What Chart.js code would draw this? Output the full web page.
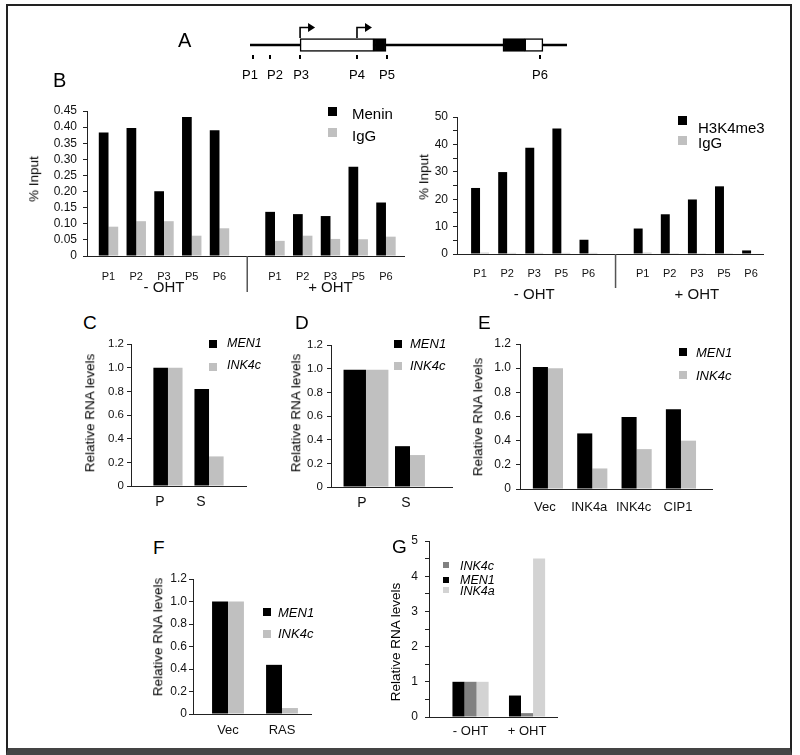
<!DOCTYPE html>
<html><head><meta charset="utf-8">
<script src="https://cdn.jsdelivr.net/npm/chart.js@4.4.1/dist/chart.umd.min.js"></script>
<style>
html,body{margin:0;padding:0;background:#fff;}
#fig{position:relative;width:800px;height:755px;overflow:hidden;background:#fff;font-family:'Liberation Sans',Arial,Helvetica,sans-serif;color:#000;}
#frame{position:absolute;left:6px;top:4px;width:786px;height:751px;box-sizing:border-box;border:2px solid #222;border-bottom:7px solid #444;}
canvas{position:absolute;}
.t{position:absolute;line-height:1;white-space:nowrap;transform:translateY(-50%);}
.rot{position:absolute;line-height:1;white-space:nowrap;transform:translate(-50%,-50%) rotate(-90deg);}
.sq{position:absolute;}
</style></head>
<body><div id="fig"><div id="frame"></div></div>
<script>
// ---------------- DATA ----------------
// Panel A: gene schematic (locus units 0-100)
const locusRange = [0, 100];
const exonBlocks = [[15.8, 39.1], [39.1, 42.9], [79.8, 86.7], [86.7, 92.4]];
const exonCoding = [false, true, true, false];
const tssSites = [15.8, 33.75];
const probeNames = ['P1', 'P2', 'P3', 'P4', 'P5', 'P6'];
const probeSites = [0.95, 6.3, 15.8, 33.75, 43.2, 91.5];

// Panel B
const bProbes = ['P1', 'P2', 'P3', 'P5', 'P6', 'P1', 'P2', 'P3', 'P5', 'P6'];
const bPositions = [0, 1, 2, 3, 4, 6, 7, 8, 9, 10];
const bGroups = ['- OHT', '+ OHT'];
const bGroupCenters = [2, 8];
const bSeparator = [5];
const meninSeries = ['Menin', 'IgG'];
const meninChIP = [0.383, 0.397, 0.201, 0.431, 0.390, 0.137, 0.130, 0.124, 0.277, 0.166];
const meninIgG = [0.091, 0.108, 0.108, 0.063, 0.086, 0.047, 0.063, 0.053, 0.052, 0.060];
const h3Series = ['H3K4me3', 'IgG'];
const h3k4me3ChIP = [24.1, 29.9, 38.8, 45.8, 5.2, 9.3, 14.5, 19.9, 24.7, 1.3];
const h3k4me3IgG = [0.5, 0.4, 0.4, 0.4, 0.4, 0.5, 0.3, 0.3, 0.3, 0.2];

// Panels C-G
const rnaSeries = ['MEN1', 'INK4c'];
const cCategories = ['P', 'S'];
const cMEN1 = [1.0, 0.82];
const cINK4c = [1.0, 0.25];
const dCategories = ['P', 'S'];
const dMEN1 = [0.99, 0.345];
const dINK4c = [0.99, 0.27];
const eCategories = ['Vec', 'INK4a', 'INK4c', 'CIP1'];
const eMEN1 = [1.01, 0.46, 0.595, 0.66];
const eINK4c = [1.0, 0.17, 0.33, 0.40];
const fCategories = ['Vec', 'RAS'];
const fMEN1 = [1.0, 0.437];
const fINK4c = [1.0, 0.053];
const gCategories = ['- OHT', '+ OHT'];
const gSeries = ['INK4c', 'MEN1', 'INK4a'];
const gMEN1 = [1.0, 0.61];
const gINK4c = [1.0, 0.11];
const gINK4a = [1.0, 4.5];

// ---------------- STYLE / HELPERS ----------------
const FONT = "'Liberation Sans', Arial, Helvetica, sans-serif";
Chart.defaults.font.family = FONT;
Chart.defaults.color = '#111';
const BLACK = '#000000', GRAY = '#c0c0c0', DGRAY = '#808080', LGRAY = '#d3d3d3';
const fig = document.getElementById('fig');

function addCanvas(x, y, w, h) {
  const c = document.createElement('canvas');
  c.width = w; c.height = h;
  c.style.left = x + 'px'; c.style.top = y + 'px';
  c.style.width = w + 'px'; c.style.height = h + 'px';
  fig.appendChild(c);
  return c;
}
function text(str, x, cy, size, italic) {
  const d = document.createElement('div');
  d.className = 't';
  d.textContent = str;
  d.style.left = x + 'px'; d.style.top = cy + 'px';
  d.style.fontSize = size + 'px';
  if (italic) d.style.fontStyle = 'italic';
  fig.appendChild(d);
}
function rotText(str, cx, cy, size) {
  const d = document.createElement('div');
  d.className = 'rot';
  d.textContent = str;
  d.style.left = cx + 'px'; d.style.top = cy + 'px';
  d.style.fontSize = size + 'px';
  fig.appendChild(d);
}
function legend(names, colors, o) {
  names.forEach((n, i) => {
    const sq = document.createElement('div');
    sq.className = 'sq';
    sq.style.left = o.x + 'px';
    sq.style.top = (o.rows[i] - o.sq / 2) + 'px';
    sq.style.width = o.sq + 'px'; sq.style.height = o.sq + 'px';
    sq.style.background = colors[i];
    fig.appendChild(sq);
    text(n, o.tx, o.trows[i], o.size, o.italic);
  });
}
function series(positions, values) {
  return positions.map((p, i) => ({x: p, y: values[i]}));
}

const groupAxisPlugin = {
  id: 'groupAxis',
  afterDraw(chart, args, opts) {
    if (!opts || !opts.labels) return;
    const ctx = chart.ctx, xs = chart.scales.x, y0 = chart.chartArea.bottom;
    ctx.save();
    ctx.strokeStyle = '#555'; ctx.lineWidth = 1.5;
    opts.separators.forEach(v => {
      const x = xs.getPixelForValue(v);
      ctx.beginPath(); ctx.moveTo(x, y0); ctx.lineTo(x, y0 + opts.sepLen); ctx.stroke();
    });
    ctx.fillStyle = '#111';
    ctx.font = opts.size + 'px ' + FONT;
    ctx.textAlign = 'center'; ctx.textBaseline = 'middle';
    opts.labels.forEach((t, i) => ctx.fillText(t, xs.getPixelForValue(opts.centers[i]), y0 + opts.dy));
    ctx.restore();
  }
};

function barPanel(cfg) {
  const a = cfg.area;
  const W = a.r - a.l + 70, H = a.b - a.t + 65;
  const cv = addCanvas(a.l - 60, a.t - 15, W, H);
  return new Chart(cv, {
    type: 'bar',
    data: {datasets: cfg.datasets},
    options: {
      responsive: false, animation: false, devicePixelRatio: 1,
      layout: {padding: {left: 0, top: 15, right: 10, bottom: 0}},
      plugins: {legend: {display: false}, tooltip: {enabled: false}, groupAxis: cfg.group || false},
      scales: {
        x: {
          type: 'linear', min: cfg.xMin, max: cfg.xMax, offset: false,
          grid: {display: false, drawTicks: false},
          border: {display: true, color: '#222', width: 1},
          afterBuildTicks: s => { s.ticks = cfg.positions.map(v => ({value: v})); },
          afterFit: s => { s.height = 50; },
          ticks: {
            autoSkip: false, maxRotation: 0, minRotation: 0,
            padding: cfg.xPad, labelOffset: cfg.labelOffset || 0,
            color: '#111', font: {size: cfg.xFont},
            callback: v => { const i = cfg.positions.indexOf(v); return i < 0 ? '' : cfg.labels[i]; }
          }
        },
        y: {
          min: 0, max: cfg.yMax,
          grid: {drawOnChartArea: false, drawTicks: true, tickLength: 4, color: '#222'},
          border: {display: true, color: '#222', width: 1},
          afterFit: s => { s.width = 60; },
          ticks: {autoSkip: false, stepSize: cfg.yStep, padding: cfg.yPad, color: '#111', font: {size: cfg.yFont}, callback: cfg.yFmt}
        }
      }
    },
    plugins: [groupAxisPlugin]
  });
}
const fmt2 = v => v === 0 ? '0' : v.toFixed(2);
const fmt1 = v => v === 0 ? '0' : v.toFixed(1);

// ---------------- PANEL A ----------------
const probeLabelNudge = [-3, 5, 1, 0, 0, 0];
const genePlugin = {
  id: 'geneMarks',
  afterDraw(chart) {
    const ctx = chart.ctx, xs = chart.scales.x;
    const yc = chart.getDatasetMeta(0).data[0].y;
    ctx.save();
    ctx.strokeStyle = '#000'; ctx.fillStyle = '#000';
    ctx.lineWidth = 2;
    probeSites.forEach(p => {
      const x = Math.round(xs.getPixelForValue(p));
      ctx.beginPath(); ctx.moveTo(x, yc + 10); ctx.lineTo(x, yc + 14); ctx.stroke();
    });
    ctx.font = '13px ' + FONT; ctx.textAlign = 'center'; ctx.textBaseline = 'middle';
    probeNames.forEach((n, i) => ctx.fillText(n, xs.getPixelForValue(probeSites[i]) + probeLabelNudge[i], yc + 30));
    ctx.lineWidth = 1.6;
    tssSites.forEach(p => {
      const x = xs.getPixelForValue(p);
      ctx.beginPath(); ctx.moveTo(x, yc - 7); ctx.lineTo(x, yc - 17.5); ctx.lineTo(x + 9, yc - 17.5); ctx.stroke();
      ctx.beginPath(); ctx.moveTo(x + 8, yc - 22); ctx.lineTo(x + 15, yc - 17.5); ctx.lineTo(x + 8, yc - 13); ctx.closePath(); ctx.fill();
    });
    ctx.restore();
  }
};
new Chart(addCanvas(170, 5, 420, 80), {
  type: 'bar',
  data: {
    labels: ['locus'],
    datasets: exonBlocks.map((r, i) => ({
      data: [r], backgroundColor: exonCoding[i] ? BLACK : '#ffffff', borderColor: '#000',
      borderWidth: 1.5, borderSkipped: false, barThickness: 13, grouped: false, order: 0
    })).concat([{data: [locusRange], backgroundColor: BLACK, borderWidth: 0, barThickness: 2, grouped: false, order: 1}])
  },
  options: {
    indexAxis: 'y', responsive: false, animation: false, devicePixelRatio: 1,
    layout: {padding: {left: 80, right: 23, top: 25, bottom: 25}},
    plugins: {legend: {display: false}, tooltip: {enabled: false}},
    scales: {x: {type: 'linear', display: false, min: locusRange[0], max: locusRange[1]}, y: {display: false}}
  },
  plugins: [genePlugin]
});
text('A', 178, 40, 20);

// ---------------- PANEL B ----------------
text('B', 53, 80, 20);
barPanel({
  area: {l: 87, t: 111, r: 404, b: 256}, positions: bPositions, labels: bProbes,
  xMin: -0.775, xMax: 10.65, yMax: 0.45, yStep: 0.05, yFmt: fmt2, yFont: 12, yPad: 6, xFont: 11, xPad: 14,
  group: {labels: bGroups, centers: bGroupCenters, separators: bSeparator, sepLen: 36, dy: 32, size: 15},
  datasets: [
    {label: meninSeries[0], data: series(bPositions, meninChIP), backgroundColor: BLACK, categoryPercentage: 0.70, barPercentage: 1},
    {label: meninSeries[1], data: series(bPositions, meninIgG), backgroundColor: GRAY, categoryPercentage: 0.70, barPercentage: 1}
  ]
});
rotText('% Input', 34, 179, 13.5);
legend(meninSeries, [BLACK, GRAY], {x: 328, sq: 9, rows: [111, 132], tx: 352, trows: [113, 135], size: 15});

barPanel({
  area: {l: 457, t: 117, r: 763, b: 254}, positions: bPositions, labels: bProbes,
  xMin: -0.85, xMax: 10.44, yMax: 50, yStep: 5, yFmt: v => v % 10 === 0 ? String(v) : '', yFont: 12, yPad: 5, xFont: 11, xPad: 13,
  group: {labels: bGroups, centers: bGroupCenters, separators: bSeparator, sepLen: 34, dy: 41, size: 15},
  datasets: [
    {label: h3Series[0], data: series(bPositions, h3k4me3ChIP), backgroundColor: BLACK, categoryPercentage: 0.66, barPercentage: 1},
    {label: h3Series[1], data: series(bPositions, h3k4me3IgG), backgroundColor: GRAY, categoryPercentage: 0.66, barPercentage: 1}
  ]
});
rotText('% Input', 424, 177, 13.5);
legend(h3Series, [BLACK, GRAY], {x: 678, sq: 9, rows: [120, 140], tx: 698, trows: [127, 142], size: 15});

// ---------------- PANEL C ----------------
const cPos = cCategories.map((c, i) => i);
text('C', 83, 321.5, 19);
barPanel({
  area: {l: 131, t: 344, r: 246, b: 486}, positions: cPos, labels: cCategories,
  xMin: -0.9, xMax: 1.9, yMax: 1.2, yStep: 0.2, yFmt: fmt1, yFont: 11.5, yPad: 3, xFont: 14, xPad: 8, labelOffset: -8,
  datasets: [
    {label: rnaSeries[0], data: series(cPos, cMEN1), backgroundColor: BLACK, categoryPercentage: 0.71, barPercentage: 1},
    {label: rnaSeries[1], data: series(cPos, cINK4c), backgroundColor: GRAY, categoryPercentage: 0.71, barPercentage: 1}
  ]
});
rotText('Relative RNA levels', 90, 413, 13.5);
legend(rnaSeries, [BLACK, GRAY], {x: 209, sq: 8, rows: [343.5, 366.5], tx: 227, trows: [343, 365], size: 12.5, italic: true});

// ---------------- PANEL D ----------------
const dPos = dCategories.map((c, i) => i);
text('D', 295, 321.5, 19);
barPanel({
  area: {l: 331, t: 345, r: 452, b: 487}, positions: dPos, labels: dCategories,
  xMin: -0.795, xMax: 1.955, yMax: 1.2, yStep: 0.2, yFmt: fmt1, yFont: 11.5, yPad: 4, xFont: 14, xPad: 8, labelOffset: -4,
  datasets: [
    {label: rnaSeries[0], data: series(dPos, [dMEN1[0], null]), backgroundColor: BLACK, categoryPercentage: 1.02, barPercentage: 1, skipNull: true},
    {label: rnaSeries[1], data: series(dPos, [dINK4c[0], null]), backgroundColor: GRAY, categoryPercentage: 1.02, barPercentage: 1, skipNull: true},
    {label: rnaSeries[0], data: series(dPos, [null, dMEN1[1]]), backgroundColor: BLACK, categoryPercentage: 0.68, barPercentage: 1, skipNull: true},
    {label: rnaSeries[1], data: series(dPos, [null, dINK4c[1]]), backgroundColor: GRAY, categoryPercentage: 0.68, barPercentage: 1, skipNull: true}
  ]
});
rotText('Relative RNA levels', 296, 413, 13.5);
legend(rnaSeries, [BLACK, GRAY], {x: 394, sq: 8, rows: [343.5, 366], tx: 410, trows: [343, 365], size: 13, italic: true});

// ---------------- PANEL E ----------------
const ePos = eCategories.map((c, i) => i);
text('E', 478, 321.5, 19);
barPanel({
  area: {l: 520, t: 344, r: 712, b: 489}, positions: ePos, labels: eCategories,
  xMin: -0.63, xMax: 3.70, yMax: 1.2, yStep: 0.2, yFmt: fmt1, yFont: 12, yPad: 5, xFont: 13, xPad: 11, labelOffset: -3,
  datasets: [
    {label: rnaSeries[0], data: series(ePos, eMEN1), backgroundColor: BLACK, categoryPercentage: 0.68, barPercentage: 1},
    {label: rnaSeries[1], data: series(ePos, eINK4c), backgroundColor: GRAY, categoryPercentage: 0.68, barPercentage: 1}
  ]
});
rotText('Relative RNA levels', 478, 417, 13.5);
legend(rnaSeries, [BLACK, GRAY], {x: 679, sq: 8, rows: [351.5, 375], tx: 696, trows: [352, 375], size: 13, italic: true});

// ---------------- PANEL F ----------------
const fPos = fCategories.map((c, i) => i);
text('F', 153, 546.5, 19);
barPanel({
  area: {l: 193, t: 579, r: 311, b: 714}, positions: fPos, labels: fCategories,
  xMin: -0.648, xMax: 1.537, yMax: 1.2, yStep: 0.2, yFmt: fmt1, yFont: 12, yPad: 2, xFont: 13, xPad: 9,
  datasets: [
    {label: rnaSeries[0], data: series(fPos, fMEN1), backgroundColor: BLACK, categoryPercentage: 0.59, barPercentage: 1},
    {label: rnaSeries[1], data: series(fPos, fINK4c), backgroundColor: GRAY, categoryPercentage: 0.59, barPercentage: 1}
  ]
});
rotText('Relative RNA levels', 158, 637, 13.5);
legend(rnaSeries, [BLACK, GRAY], {x: 263, sq: 8, rows: [611.5, 633.5], tx: 278, trows: [612, 633], size: 13, italic: true});

// ---------------- PANEL G ----------------
const gPos = gCategories.map((c, i) => i);
text('G', 392, 546, 19);
barPanel({
  area: {l: 429, t: 541, r: 557, b: 717}, positions: gPos, labels: gCategories,
  xMin: -0.735, xMax: 1.53, yMax: 5, yStep: 0.5, yFmt: v => Number.isInteger(v) ? String(v) : '', yFont: 12, yPad: 7, xFont: 13, xPad: 7,
  datasets: [
    {label: gSeries[1], data: series(gPos, gMEN1), backgroundColor: BLACK, categoryPercentage: 0.64, barPercentage: 1},
    {label: gSeries[0], data: series(gPos, gINK4c), backgroundColor: DGRAY, categoryPercentage: 0.64, barPercentage: 1},
    {label: gSeries[2], data: series(gPos, gINK4a), backgroundColor: LGRAY, categoryPercentage: 0.64, barPercentage: 1}
  ]
});
rotText('Relative RNA levels', 396, 642, 13.5);
legend(gSeries, [DGRAY, BLACK, LGRAY], {x: 443, sq: 6, rows: [565, 580, 590], tx: 460, trows: [566, 580, 591], size: 12.5, italic: true});
</script>
</body></html>
